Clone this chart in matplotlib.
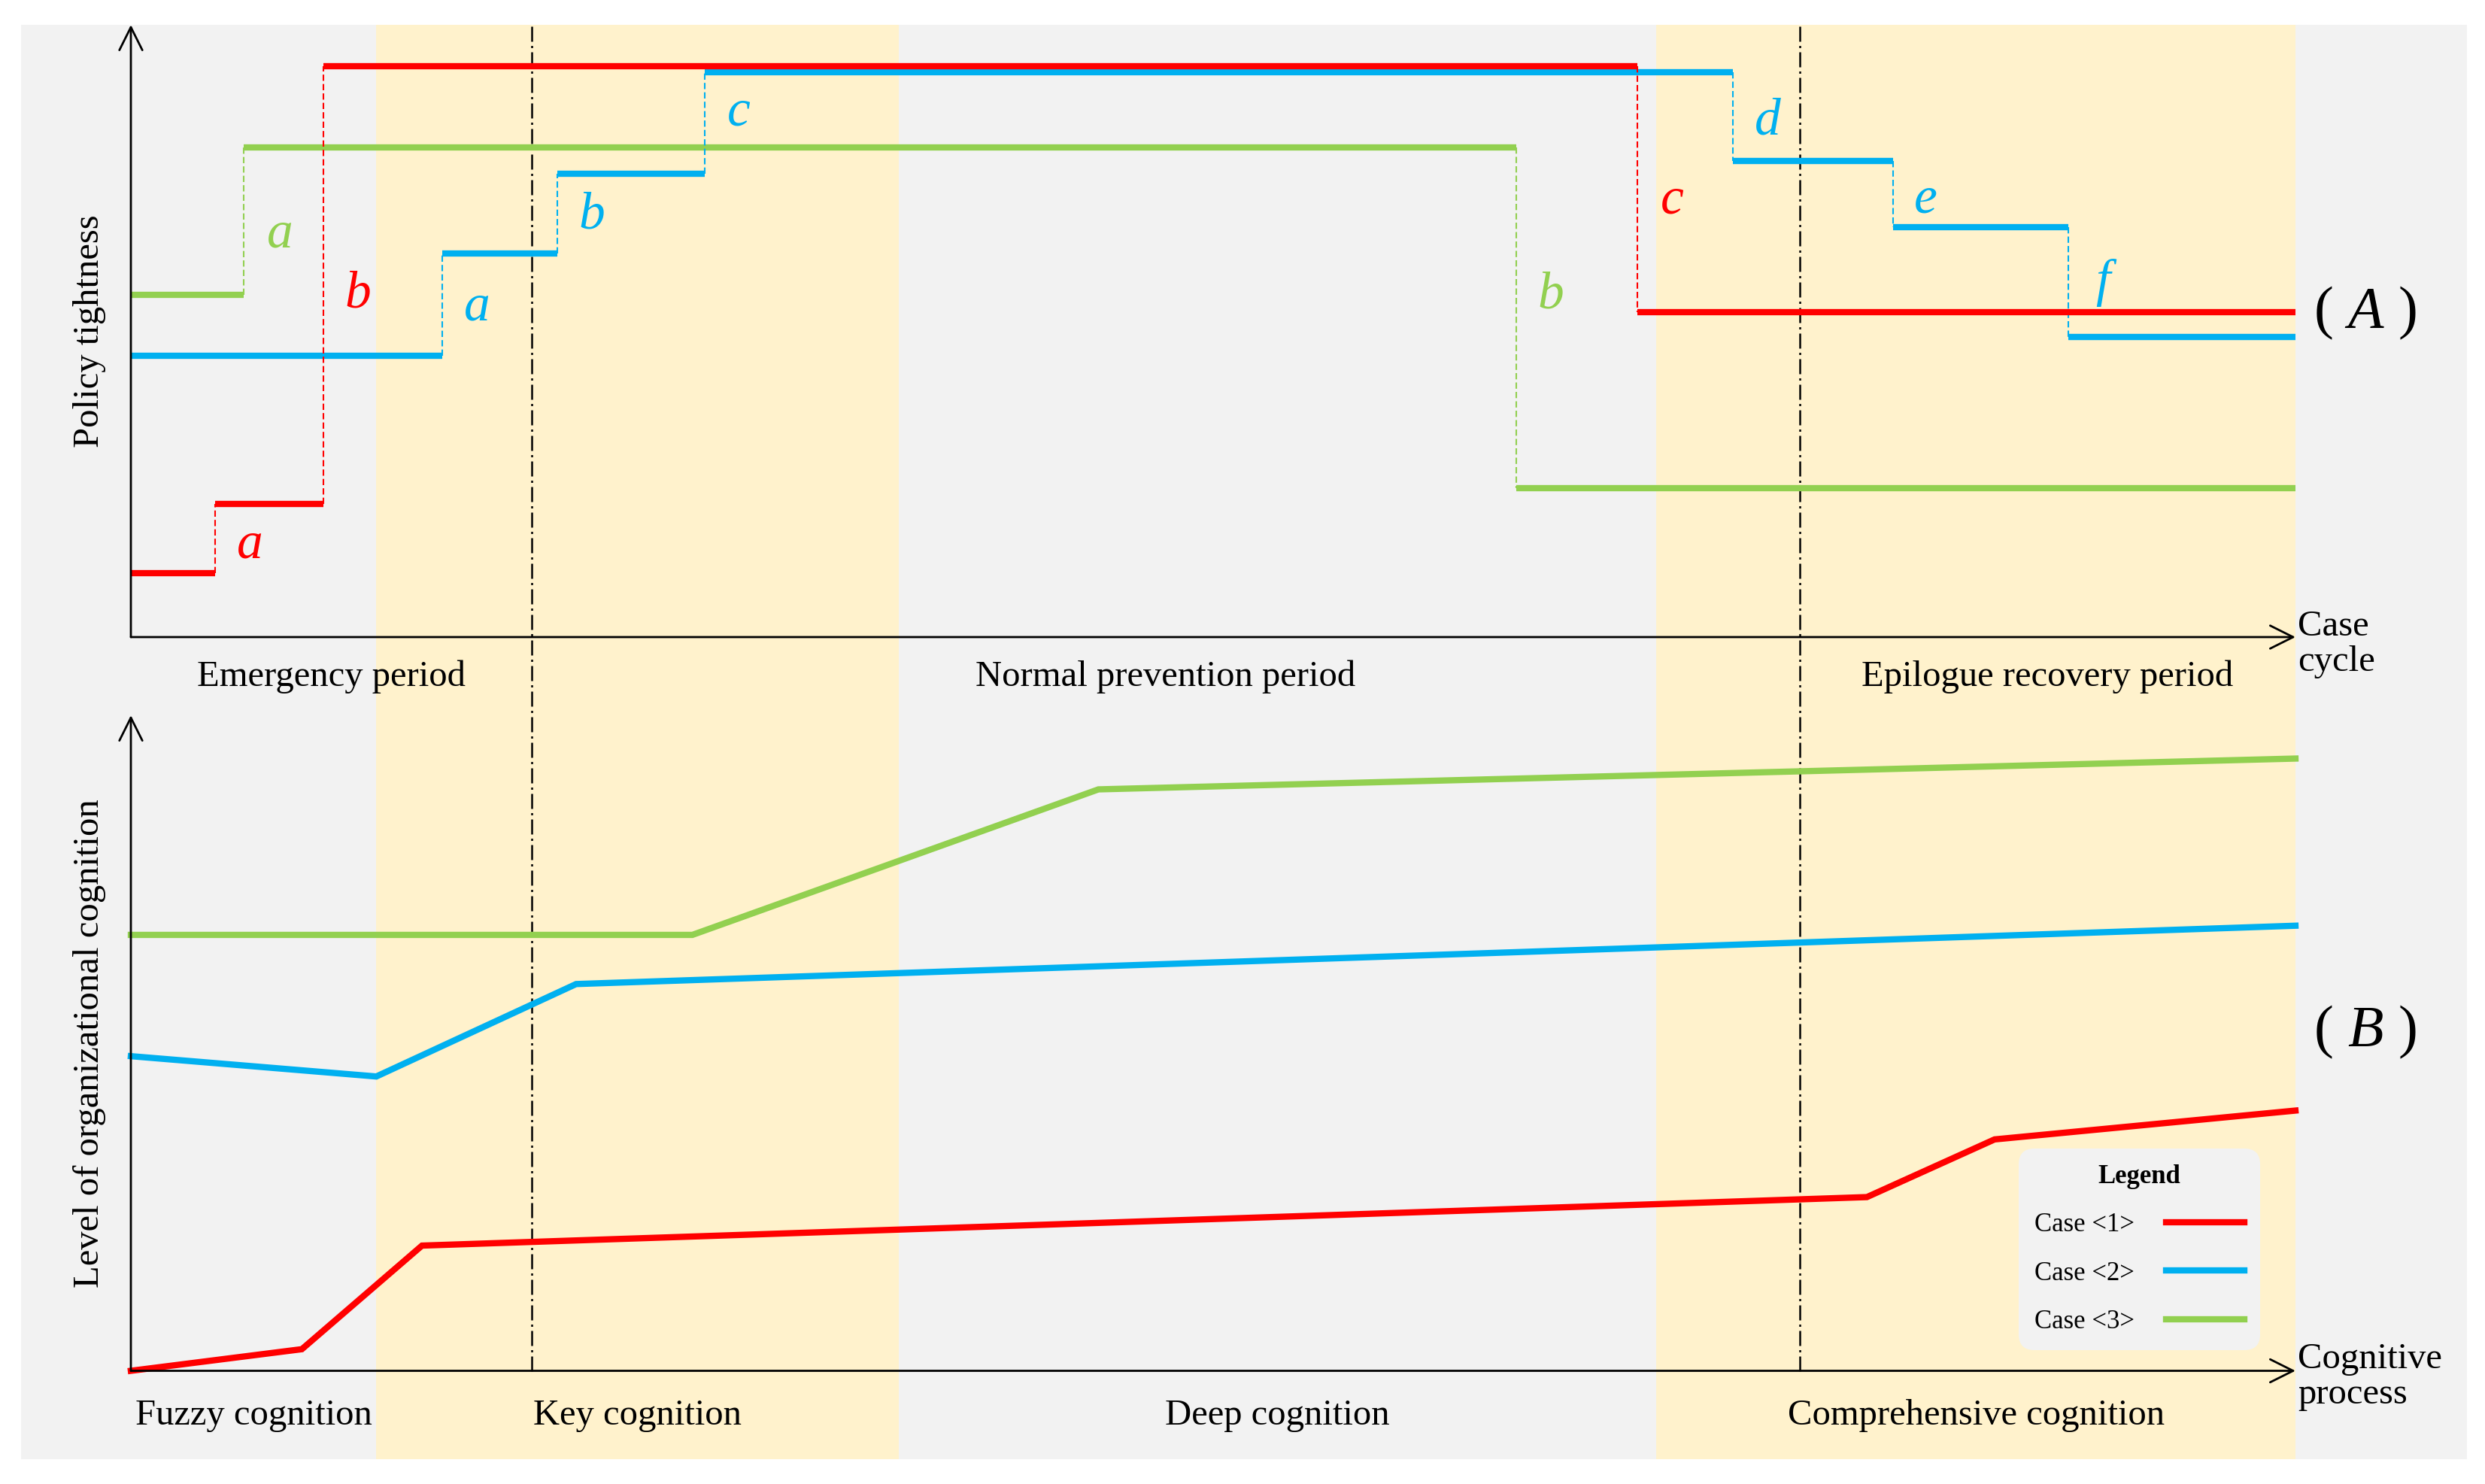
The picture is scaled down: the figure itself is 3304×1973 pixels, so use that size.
import matplotlib
matplotlib.use('Agg')
import matplotlib.pyplot as plt
from matplotlib.lines import Line2D

plt.rcParams['font.family'] = ['Liberation Serif', 'DejaVu Serif']
plt.rcParams['mathtext.fontset'] = 'custom'
plt.rcParams['mathtext.rm'] = 'Liberation Serif'
plt.rcParams['mathtext.it'] = 'Liberation Serif:italic'

RED = '#FF0000'
BLUE = '#00B0F0'
GREEN = '#92D050'
PEACH = '#FFF2CC'
GRAY = '#F2F2F2'

# ---- data (x: case cycle 0..100, y: relative level 0..100) ----
cases = ['Case <1>', 'Case <2>', 'Case <3>']

# (A) policy tightness, step functions
red_steps = [0, 3.9, 8.9, 69.6, 100]
red_levels = [10.4, 21.7, 93.2, 53.1]
red_marks = ['a', 'b', 'c']
red_mark_pos = [(5.5, 15.0), (10.5, 55.9), (71.2, 71.3)]

blue_steps = [0, 14.4, 19.7, 26.5, 74.0, 81.4, 89.5, 100]
blue_levels = [46.0, 62.6, 75.7, 92.2, 77.8, 67.0, 49.0]
blue_marks = ['a', 'b', 'c', 'd', 'e', 'f']
blue_mark_pos = [(16.0, 53.8), (21.3, 68.8), (28.1, 85.6),
                 (75.6, 84.2), (82.9, 71.4), (91.1, 57.9)]

green_steps = [0, 5.2, 64.0, 100]
green_levels = [55.9, 80.0, 24.3]
green_marks = ['a', 'b']
green_mark_pos = [(6.9, 65.7), (65.6, 55.8)]

# (B) level of organizational cognition
red_x = [0, 7.9, 13.45, 80.2, 86.1, 100]
red_y = [0, 3.3, 19.1, 26.5, 35.3, 39.7]
blue_x = [0, 11.34, 20.57, 100]
blue_y = [48.0, 44.9, 59.0, 67.9]
green_x = [0, 25.94, 44.7, 100]
green_y = [66.5, 66.5, 88.7, 93.4]

# stages
periods = ['Emergency period', 'Normal prevention period', 'Epilogue recovery period']
period_bounds = [0, 18.52, 77.10, 100]
stages = ['Fuzzy cognition', 'Key cognition', 'Deep cognition', 'Comprehensive cognition']
stage_bounds = [0, 11.33, 35.48, 70.47, 100]

# ---- layout ----
W_PX, H_PX = 3304, 1973
fig = plt.figure(figsize=(W_PX / 100, H_PX / 100), dpi=100)
L, W = 174 / W_PX, 2878 / W_PX
top_y0, top_y1 = 1 - 847 / H_PX, 1 - 33 / H_PX
bot_y0, bot_y1 = 1 - 1822.5 / H_PX, 1 - 951 / H_PX
gray_y0 = 1 - 1940 / H_PX

bg = fig.add_axes([0, 0, 1, 1], zorder=0)
bg.set_xlim(-L / W * 100, (1 - L) / W * 100)
bg.set_ylim(0, 1)
bg.axis('off')
bg.axvspan(-5.07, 107.92, ymin=gray_y0, ymax=top_y1, color=GRAY, lw=0)
for i in (1, 3):
    bg.axvspan(stage_bounds[i], stage_bounds[i + 1], ymin=gray_y0, ymax=top_y1,
               color=PEACH, lw=0)
for xb in period_bounds[1:-1]:
    bg.axvline(xb, ymin=bot_y0, ymax=top_y1, color='black', lw=1.8,
               dashes=(8, 2.2, 1.2, 2.2))

ax1 = fig.add_axes([L, top_y0, W, top_y1 - top_y0], zorder=2)
ax2 = fig.add_axes([L, bot_y0, W, bot_y1 - bot_y0], zorder=2)

for ax in (ax1, ax2):
    ax.set_xlim(0, 100)
    ax.set_ylim(0, 100)
    ax.set_facecolor('none')
    for s in ax.spines.values():
        s.set_visible(False)
    ax.set_xticks([])
    ax.set_yticks([])
    arrow = dict(arrowstyle='->', lw=2, color='black', mutation_scale=55,
                 shrinkA=0, shrinkB=0)
    ax.annotate('', xy=(0, 1), xytext=(0, 0), xycoords='axes fraction', arrowprops=arrow)
    ax.annotate('', xy=(1, 0), xytext=(0, 0), xycoords='axes fraction', arrowprops=arrow)


def draw_steps(ax, steps, levels, color):
    ax.hlines(levels, steps[:-1], steps[1:], colors=color, lw=6, clip_on=False)
    ax.vlines(steps[1:-1], levels[:-1], levels[1:], colors=color, lw=1.5,
              linestyles=(0, (4, 2)), clip_on=False)


draw_steps(ax1, green_steps, green_levels, GREEN)
draw_steps(ax1, blue_steps, blue_levels, BLUE)
draw_steps(ax1, red_steps, red_levels, RED)

for marks, pos, color in [(red_marks, red_mark_pos, RED),
                          (blue_marks, blue_mark_pos, BLUE),
                          (green_marks, green_mark_pos, GREEN)]:
    for m, (x, y) in zip(marks, pos):
        ax1.text(x, y, m, color=color, fontsize=50, style='italic',
                 ha='center', va='center')

ax1.text(103.2, 52.9, r'( $A$ )', fontsize=56, ha='center', va='center')
ax1.text(-0.0191, 0.5, 'Policy tightness', transform=ax1.transAxes,
         rotation=90, fontsize=35, ha='center', va='center')
ax1.text(100.1, -0.012, 'Case\ncycle', transform=ax1.get_xaxis_transform(),
         fontsize=35, ha='left', va='center', linespacing=1.1)
for i, name in enumerate(periods):
    ax1.text((period_bounds[i] + period_bounds[i + 1]) / 2, -0.065, name,
             transform=ax1.get_xaxis_transform(), fontsize=35,
             ha='center', va='center')

ax2.plot(green_x, green_y, color=GREEN, lw=6, clip_on=False, solid_joinstyle='miter')
ax2.plot(blue_x, blue_y, color=BLUE, lw=6, clip_on=False, solid_joinstyle='miter')
ax2.plot(red_x, red_y, color=RED, lw=6, clip_on=False, solid_joinstyle='miter')

ax2.text(103.2, 51.7, r'( $B$ )', fontsize=56, ha='center', va='center')
ax2.text(-0.0191, 0.5, 'Level of organizational cognition',
         transform=ax2.transAxes, rotation=90, fontsize=35,
         ha='center', va='center')
ax2.text(100.1, -0.009, 'Cognitive\nprocess', transform=ax2.get_xaxis_transform(),
         fontsize=35, ha='left', va='center', linespacing=1.1)
for i, name in enumerate(stages):
    ax2.text((stage_bounds[i] + stage_bounds[i + 1]) / 2, -0.068, name,
             transform=ax2.get_xaxis_transform(), fontsize=35,
             ha='center', va='center')

handles = [Line2D([], [], color=c, lw=6) for c in (RED, BLUE, GREEN)]
leg = ax2.legend(handles, cases, loc='lower right', bbox_to_anchor=(0.983, 0.034),
                 borderaxespad=0, markerfirst=False, title='Legend', fontsize=25,
                 title_fontproperties={'weight': 'bold', 'size': 25},
                 handlelength=3.0, handletextpad=1.2, labelspacing=0.9,
                 borderpad=0.55, facecolor=GRAY, edgecolor='none', framealpha=1,
                 fancybox=True)
leg.get_frame().set_boxstyle('round', pad=0.05, rounding_size=0.6)

fig.savefig('out.png', dpi=100, facecolor='white')
